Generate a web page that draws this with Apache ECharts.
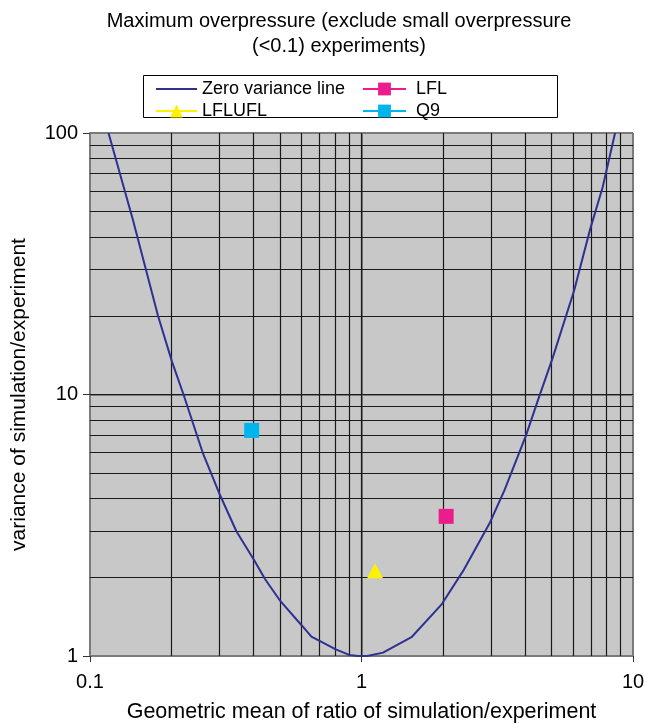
<!DOCTYPE html>
<html><head><meta charset="utf-8">
<script src="https://cdn.jsdelivr.net/npm/echarts@6/dist/echarts.min.js"></script>
<style>html,body{margin:0;padding:0;background:#fff}#c{width:649px;height:728px}</style>
</head><body><div id="c"></div>
<script>
// Zero variance line
var curveX = [0.117, 0.1438, 0.178, 0.2007, 0.221, 0.26, 0.302, 0.346, 0.403, 0.441, 0.503, 0.607, 0.654, 0.804, 0.9, 0.97, 1.05, 1.2, 1.528, 1.977, 2.371, 2.977, 3.36, 4.03, 4.48, 5.06, 6.07, 6.95, 7.73, 8.59];
var curveY = [100, 46.7, 20, 13.3, 10, 6, 4.1, 3.0, 2.32, 1.97, 1.62, 1.297, 1.186, 1.06, 1.01, 1.0, 1.0, 1.03, 1.18, 1.58, 2.12, 3.25, 4.3, 6.95, 9.6, 13.8, 25, 42.8, 62, 100];
// Experiment points
var lflX = [2.05], lflY = [3.42];
var lfluflX = [1.122], lfluflY = [2.117];
var q9X = [0.394], q9Y = [7.29];
// Minor grid values
var xMinor = [0.2,0.3,0.4,0.5,0.6,0.7,0.8,0.9,2,3,4,5,6,7,8,9];
var yMinor = [2,3,4,5,6,7,8,9,20,30,40,50,60,70,80,90];

function pairs(xs, ys){ return xs.map(function(x,i){ return [x, ys[i]]; }); }

var chart = echarts.init(document.getElementById('c'), null, {renderer:'canvas'});
var FONT = 'Liberation Sans, Arial, Helvetica, sans-serif';
var gridLines = xMinor.map(function(v){ return {xAxis: v}; }).concat(yMinor.map(function(v){ return {yAxis: v}; }))
  .concat([{xAxis:1},{yAxis:10}]);

chart.setOption({
  animation: false,
  backgroundColor: '#fff',
  textStyle: {fontFamily: FONT},
  title: {
    text: 'Maximum overpressure (exclude small overpressure\n(<0.1) experiments)',
    left: 334, textAlign: 'center', top: 4,
    textStyle: {fontSize: 20, fontWeight: 'normal', color: '#000', lineHeight: 25, fontFamily: FONT}
  },
  graphic: [{type:'rect', shape:{x:143.5, y:75.5, width:414, height:42}, style:{fill:'#fff', stroke:'#000', lineWidth:1}, z:-1}],
  legend: [{
    data: [{name:'Zero variance line', icon:'path://M0,0L42,0L42,2L0,2Z'}, 'LFLUFL'], orient: 'vertical', left: 155, top: 80, padding: 0,
    itemWidth: 41, itemHeight: 16, itemGap: 4,
    textStyle: {fontSize: 18, color: '#000', fontFamily: FONT}
  },{
    data: ['LFL', 'Q9'], orient: 'vertical', left: 362, top: 80, padding: 0,
    itemWidth: 43, itemHeight: 16, itemGap: 4,
    textStyle: {fontSize: 18, color: '#000', fontFamily: FONT, padding: [0,0,0,5]}
  }],
  grid: {left: 90, right: 16, top: 133, bottom: 66, show: true, backgroundColor: '#c8c8c8', borderWidth: 0},
  xAxis: {
    type: 'log', logBase: 10, min: 0.1, max: 10,
    name: 'Geometric mean of ratio of simulation/experiment', nameLocation: 'middle', nameGap: 45,
    nameTextStyle: {fontSize: 21.5, color: '#000', fontFamily: FONT},
    axisLine: {show: true, lineStyle: {color: '#7a7a7a', width: 2}},
    axisTick: {show: true, length: 6, lineStyle: {color: '#333'}},
    axisLabel: {fontSize: 20, color: '#000', margin: 16, fontFamily: FONT},
    splitLine: {show: true, lineStyle: {color: '#7a7a7a', width: 2}}
  },
  yAxis: {
    type: 'log', logBase: 10, min: 1, max: 100,
    name: 'variance of simulation/experiment', nameLocation: 'middle', nameGap: 60,
    nameTextStyle: {fontSize: 21, color: '#000', fontFamily: FONT},
    axisLine: {show: true, lineStyle: {color: '#7a7a7a', width: 2}},
    axisTick: {show: true, length: 7, lineStyle: {color: '#333'}},
    axisLabel: {fontSize: 20, color: '#000', margin: 12, fontFamily: FONT},
    splitLine: {show: true, lineStyle: {color: '#7a7a7a', width: 2}}
  },
  series: [{
    name: 'Zero variance line', type: 'line', data: pairs(curveX, curveY),
    showSymbol: false, symbol: 'none', color: '#2e3192',
    lineStyle: {color: '#2e3192', width: 2}, z: 5,
    markLine: {silent: true, symbol: 'none', label: {show: false}, animation: false,
      lineStyle: {color: '#1a1a1a', width: 1.2, type: 'solid'}, emphasis:{disabled:true}, data: gridLines}
  },{
    name: 'LFL', type: 'line', data: pairs(lflX, lflY), symbol: 'rect', symbolSize: 15,
    color: '#ec1c8c', itemStyle: {color: '#ec1c8c'}, lineStyle: {color: '#ec1c8c', width: 2}, z: 6
  },{
    name: 'LFLUFL', type: 'line', data: pairs(lfluflX, lfluflY), symbol: 'triangle', symbolSize: [16, 15],
    color: '#fff200', itemStyle: {color: '#fff200'}, lineStyle: {color: '#fff200', width: 2}, z: 6
  },{
    name: 'Q9', type: 'line', data: pairs(q9X, q9Y), symbol: 'rect', symbolSize: 15,
    color: '#00b4ec', itemStyle: {color: '#00b4ec'}, lineStyle: {color: '#00b4ec', width: 2}, z: 6
  }]
});
</script></body></html>
